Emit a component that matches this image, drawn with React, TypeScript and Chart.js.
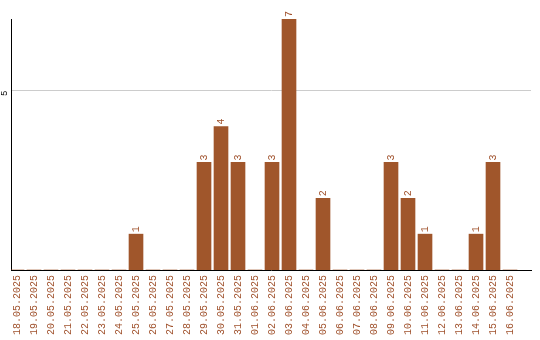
import React, { useEffect, useRef } from 'react';
import { Chart, registerables } from 'chart.js';

Chart.register(...registerables);

const categories: string[] = [
  '18.05.2025', '19.05.2025', '20.05.2025', '21.05.2025', '22.05.2025',
  '23.05.2025', '24.05.2025', '25.05.2025', '26.05.2025', '27.05.2025',
  '28.05.2025', '29.05.2025', '30.05.2025', '31.05.2025', '01.06.2025',
  '02.06.2025', '03.06.2025', '04.06.2025', '05.06.2025', '06.06.2025',
  '07.06.2025', '08.06.2025', '09.06.2025', '10.06.2025', '11.06.2025',
  '12.06.2025', '13.06.2025', '14.06.2025', '15.06.2025', '16.06.2025',
];

const counts: number[] = [
  0, 0, 0, 0, 0, 0, 0, 1, 0, 0,
  0, 3, 4, 3, 0, 3, 7, 0, 2, 0,
  0, 0, 3, 2, 1, 0, 0, 1, 3, 0,
];

const yTicks: number[] = [5];
const yMax = 7;

const BAR_COLOR = '#A0562B';
const TEXT_COLOR = '#A0522D';
const MONO = '"Liberation Mono", "DejaVu Sans Mono", monospace';

const labelPlugin = {
  id: 'customLabels',
  afterDatasetsDraw(chart: any) {
    const ctx: CanvasRenderingContext2D = chart.ctx;
    const meta = chart.getDatasetMeta(0);
    ctx.save();
    ctx.fillStyle = TEXT_COLOR;
    ctx.font = `10px ${MONO}`;
    ctx.textAlign = 'left';
    ctx.textBaseline = 'middle';
    meta.data.forEach((bar: any, i: number) => {
      const v = counts[i];
      if (!v) return;
      ctx.save();
      ctx.translate(bar.x, bar.y - 2);
      ctx.rotate(-Math.PI / 2);
      ctx.fillText(String(v), 0, 0);
      ctx.restore();
    });
    const ys = chart.scales.y;
    ctx.fillStyle = '#000000';
    ctx.font = `9px ${MONO}`;
    ctx.textAlign = 'right';
    yTicks.forEach((t) => {
      ctx.save();
      ctx.translate(4.5, ys.getPixelForValue(t));
      ctx.rotate(-Math.PI / 2);
      ctx.fillText(String(t), 0, 0);
      ctx.restore();
    });
    ctx.restore();
  },
};

export default function App() {
  const ref = useRef<HTMLCanvasElement | null>(null);

  useEffect(() => {
    if (!ref.current) return;
    const chart = new Chart(ref.current, {
      type: 'bar',
      data: {
        datasets: [
          {
            data: counts.map((v, i) => ({ x: i, y: v })),
            backgroundColor: BAR_COLOR,
            borderWidth: 0,
            barThickness: 14,
          },
        ],
      },
      options: {
        responsive: false,
        maintainAspectRatio: false,
        animation: false,
        layout: { padding: { top: 19, right: 9, left: 0, bottom: 0 } },
        plugins: {
          legend: { display: false },
          tooltip: { enabled: false },
        },
        scales: {
          x: {
            type: 'linear',
            offset: false,
            min: -0.353,
            max: 30.235,
            afterBuildTicks: (axis: any) => {
              axis.ticks = categories.map((_, i) => ({ value: i }));
            },
            afterFit: (axis: any) => {
              axis.height = 70;
              axis.paddingLeft = 0;
              axis.paddingRight = 0;
            },
            grid: { display: false, drawTicks: false, offset: false },
            border: { display: true, color: '#000000', width: 1 },
            ticks: {
              autoSkip: false,
              minRotation: 90,
              maxRotation: 90,
              padding: 5,
              color: TEXT_COLOR,
              font: { family: MONO, size: 10 },
              callback: (v: any) => categories[Math.round(Number(v))] ?? '',
            },
          },
          y: {
            min: 0,
            max: yMax,
            afterBuildTicks: (axis: any) => {
              axis.ticks = yTicks.map((v) => ({ value: v }));
            },
            afterFit: (axis: any) => {
              axis.width = 11;
              axis.paddingTop = 0;
              axis.paddingBottom = 0;
            },
            grid: { color: '#cccccc', drawTicks: false },
            border: { display: true, color: '#000000', width: 1 },
            ticks: { display: false },
          },
        },
      },
      plugins: [labelPlugin],
    } as any);
    return () => chart.destroy();
  }, []);

  return (
    <div style={{ position: 'fixed', left: 0, top: 0, width: 540, height: 340, background: '#ffffff' }}>
      <canvas ref={ref} width={540} height={340} />
    </div>
  );
}
